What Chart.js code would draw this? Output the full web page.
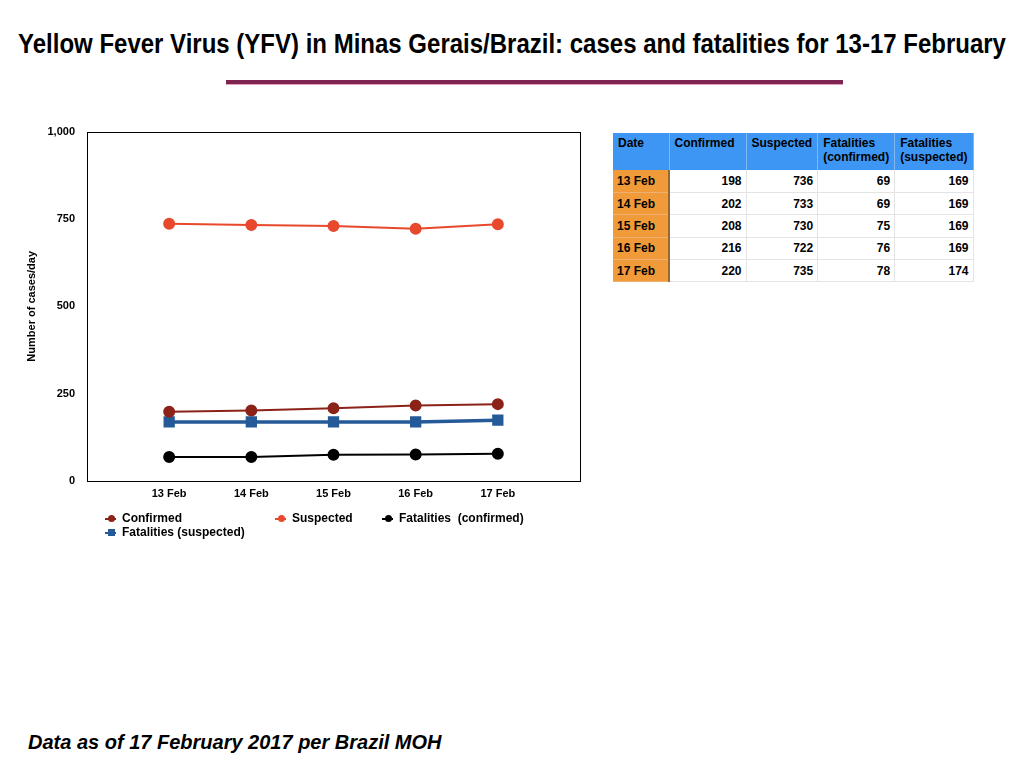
<!DOCTYPE html>
<html lang="en">
<head>
<meta charset="UTF-8">
<title>Yellow Fever Virus in Minas Gerais</title>
<script src="https://cdn.jsdelivr.net/npm/chart.js"></script>
<style>
    body { margin: 0; width: 1024px; height: 768px; background: #fff; position: relative; overflow: hidden;
           font-family: "Liberation Sans", Arial, sans-serif; }
    #title { position: absolute; left: 0; width: 1024px; top: 30px; text-align: center;
             font-family: "Liberation Sans Narrow", "Liberation Sans", sans-serif; font-weight: bold; font-size: 24px; color: #000;
             white-space: nowrap; transform: scaleY(1.12); }
    #rule { position: absolute; left: 226px; top: 80px; width: 617px; height: 4px; background: #7d2450;
            border-bottom: 1px solid #e8a0c0; }
    .chart-container { position: absolute; left: 25px; top: 113px; width: 565px; height: 407px; }
    #legend { position: absolute; left: 0; top: 0; }
    .lg { position: absolute; font-weight: bold; font-size: 12px; white-space: nowrap; }
    .lg .mk { position: absolute; left: -17px; top: 7px; width: 11px; height: 2px; }
    .lg .dot { position: absolute; left: -14px; top: 4px; width: 7px; height: 7px; border-radius: 50%; }
    .lg .sq { position: absolute; left: -14px; top: 4px; width: 7px; height: 7px; }
    #tbl { position: absolute; left: 613px; top: 133px; border-collapse: collapse; font-size: 12px; font-weight: bold; }
    #tbl th { background: #3d96f4; color: #000; text-align: left; vertical-align: top; height: 37px; padding: 3px 5px 0 5px;
              border-right: 1px solid #80b8f0; line-height: 14px; box-sizing: border-box; }
    #tbl td { height: 22.4px; padding: 0 4px; text-align: right; border-bottom: 1px solid #e4e4e4; border-right: 1px solid #e4e4e4;
              box-sizing: border-box; }
    #tbl td.d { background: #f09a3a; text-align: left; border-right: 2px solid #9a6a30; border-bottom: 1px solid #f0b070; }
    #footer { position: absolute; left: 28px; top: 731px; font-weight: bold; font-style: italic; font-size: 20px; }
</style>
</head>
<body>
    <div id="title">Yellow Fever Virus (YFV) in Minas Gerais/Brazil: cases and fatalities for 13-17 February</div>
    <div id="rule"></div>

    <div class="chart-container">
        <canvas id="yfvChart"></canvas>
    </div>
    <div id="legend"></div>

    <table id="tbl"></table>

    <div id="footer">Data as of 17 February 2017 per Brazil MOH</div>

<script>
    // dados
    const dates = ['13 Feb', '14 Feb', '15 Feb', '16 Feb', '17 Feb'];
    const confirmed = [198, 202, 208, 216, 220];
    const suspected = [736, 733, 730, 722, 735];
    const fatalConfirmed = [69, 69, 75, 76, 78];
    const fatalSuspected = [169, 169, 169, 169, 174];
    const yTicks = [0, 250, 500, 750, 1000];

    const toPts = arr => arr.map((v, i) => ({ x: i + 1, y: v }));

    const datasets = [
        { label: 'Confirmed', data: toPts(confirmed), borderColor: '#8c2318', backgroundColor: '#8c2318',
          borderWidth: 2, pointRadius: 5, pointStyle: 'circle' },
        { label: 'Suspected', data: toPts(suspected), borderColor: '#e8492c', backgroundColor: '#e8492c',
          borderWidth: 2, pointRadius: 5, pointStyle: 'circle' },
        { label: 'Fatalities  (confirmed)', data: toPts(fatalConfirmed), borderColor: '#000000', backgroundColor: '#000000',
          borderWidth: 2, pointRadius: 5, pointStyle: 'circle' },
        { label: 'Fatalities (suspected)', data: toPts(fatalSuspected), borderColor: '#255a98', backgroundColor: '#255a98',
          borderWidth: 3.5, pointRadius: 5.5, pointStyle: 'rect' }
    ];

    const boxPlugin = {
        id: 'box',
        afterDraw(chart) {
            const a = chart.chartArea, c = chart.ctx;
            c.save();
            c.strokeStyle = '#000';
            c.lineWidth = 1;
            c.strokeRect(Math.round(a.left) + 0.5, Math.round(a.top) + 0.5, Math.round(a.right - a.left), Math.round(a.bottom - a.top));
            c.restore();
        }
    };

    const tickFont = { family: 'Liberation Sans', size: 11, weight: 'bold' };

    new Chart(document.getElementById('yfvChart'), {
        type: 'line',
        data: { datasets: datasets },
        plugins: [boxPlugin],
        options: {
            responsive: true,
            maintainAspectRatio: false,
            animation: false,
            layout: { padding: { top: 6, right: 10, left: 0, bottom: 20 } },
            plugins: { legend: { display: false }, tooltip: { enabled: false } },
            scales: {
                x: {
                    type: 'linear', min: 0, max: 6,
                    grid: { display: false, drawTicks: false }, border: { display: false },
                    afterBuildTicks: ax => { ax.ticks = dates.map((d, i) => ({ value: i + 1 })); },
                    afterFit: ax => { ax.height = 19; },
                    ticks: {
                        color: '#000', font: tickFont, padding: 6, maxRotation: 0,
                        callback: v => dates[v - 1] || ''
                    }
                },
                y: {
                    min: 0, max: 1000,
                    grid: { display: false, drawTicks: false }, border: { display: false },
                    afterBuildTicks: ax => { ax.ticks = yTicks.map(v => ({ value: v })); },
                    afterFit: ax => { ax.width = 62; },
                    title: { display: true, text: 'Number of cases/day', color: '#000', padding: 0, font: tickFont },
                    ticks: {
                        color: '#000', font: tickFont, padding: 12,
                        callback: v => v.toLocaleString('en-US')
                    }
                }
            }
        }
    });

    // legenda
    const legendPos = [[122, 511], [292, 511], [399, 511], [122, 525]];
    let lg = '';
    datasets.forEach((ds, i) => {
        const mark = ds.pointStyle === 'rect' ? 'sq' : 'dot';
        lg += `<div class="lg" style="left:${legendPos[i][0]}px;top:${legendPos[i][1]}px">
                 <span class="mk" style="background:${ds.borderColor}"></span>
                 <span class="${mark}" style="background:${ds.borderColor}"></span>${ds.label.replace(/  /g, ' &nbsp;')}</div>`;
    });
    document.getElementById('legend').innerHTML = lg;

    // tabela
    const colW = [56, 77, 71, 75, 77];
    let t = '<tr>' + ['Date', 'Confirmed', 'Suspected', 'Fatalities<br>(confirmed)', 'Fatalities<br>(suspected)']
        .map((h, i) => `<th style="width:${colW[i]}px">${h}</th>`).join('') + '</tr>';
    dates.forEach((d, i) => {
        t += `<tr><td class="d">${d}</td><td>${confirmed[i]}</td><td>${suspected[i]}</td><td>${fatalConfirmed[i]}</td><td>${fatalSuspected[i]}</td></tr>`;
    });
    document.getElementById('tbl').innerHTML = t;
</script>
</body>
</html>
